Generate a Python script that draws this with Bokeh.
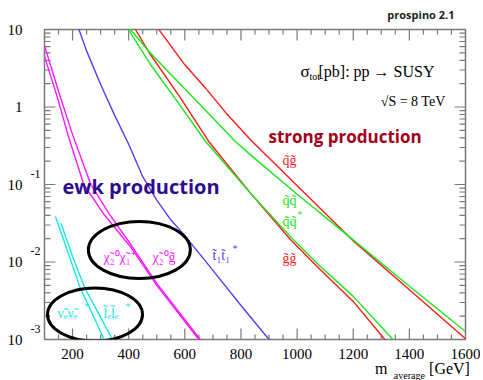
import math
from bokeh.plotting import figure
from bokeh.models import (Label, FixedTicker, LinearAxis, LogAxis,
                          CustomJSTickFormatter)
from bokeh.embed import file_html
from bokeh.resources import INLINE

# ---------------- data (m_average in GeV, sigma_tot in pb) ----------------
mass_qg = [500, 513, 600, 674, 750, 834, 1012, 1196, 1397, 1600]
xsec_qg = [11.0, 9.4, 3.5, 1.75, 0.81, 0.378, 0.0875, 0.0193, 0.00449, 0.00102]

mass_qq = [390, 406, 478, 632, 700, 780, 834, 1000, 1178, 1397, 1600]
xsec_qq = [12.0, 10.0, 4.94, 1.30, 0.72, 0.359, 0.241, 0.075, 0.0224, 0.00498, 0.00127]

mass_qqbar = [385, 399, 478, 573, 674, 834, 987, 1083, 1200, 1339, 1350]
xsec_qqbar = [12.5, 10.0, 3.51, 1.18, 0.359, 0.0773, 0.0193, 0.00875, 0.0036, 0.00102, 0.00092]

mass_gg = [410, 424, 478, 585, 685, 834, 976, 1083, 1200, 1309, 1320]
xsec_gg = [12.5, 10.0, 4.72, 1.30, 0.359, 0.0773, 0.0195, 0.00792, 0.0031, 0.00104, 0.00092]

mass_stop = [200, 250, 300, 350, 400, 450, 500, 550, 600, 700, 800, 900]
xsec_stop = [17.0, 5.3, 1.95, 0.78, 0.33, 0.126, 0.063, 0.035, 0.0219, 0.0078, 0.00275, 0.00100]

mass_n2c1 = [100, 150, 200, 265, 330, 400, 500, 655, 670]
xsec_n2c1 = [6.2, 1.6, 0.44, 0.10, 0.042, 0.0184, 0.0053, 0.00100, 0.00090]

mass_n2g = [100, 145, 185, 240, 310, 385, 405, 500, 650, 665]
xsec_n2g = [4.5, 1.36, 0.42, 0.10, 0.042, 0.0195, 0.016, 0.0050, 0.00100, 0.00090]

mass_snu = [139, 183, 228, 270, 315]
xsec_snu = [0.0386, 0.0136, 0.00455, 0.00217, 0.00095]

mass_slep = [159, 200, 244, 290, 345]
xsec_slep = [0.0317, 0.0118, 0.00459, 0.00226, 0.00095]

x_ticks = [200, 400, 600, 800, 1000, 1200, 1400, 1600]
x_minor = [m for m in range(150, 1600, 50) if m not in x_ticks]
y_ticks = [0.001, 0.01, 0.1, 1, 10]
y_minor = [k * d for d in (0.001, 0.01, 0.1, 1) for k in range(2, 10)]
y_exp_decades = [0.1, 0.01, 0.001]

# x-axis title pieces: label text -> position along the axis (GeV)
xtitle_main = {1300: "m", 1543: "[GeV]"}
xtitle_sub = {1400: "average"}

# ellipses around the ewk labels (center in data, size in px)
ell_x = [438, 280]
ell_y = [0.0143, 0.0021]
ell_w = [102, 95]
ell_h = [57, 53]

# ---------------- styles ----------------
RED = "#ff1a1a"
GREEN = "#19e619"
BLUE = "#5a3cf5"
MAGENTA = "#ff19ff"
CYAN = "#1ae6e6"
AXIS_GREY = "#7a7a7a"
SERIF = "Liberation Serif"
EXP_SHIFT = 10 ** (11 / 77.5)   # raise exponents by ~11 px

p = figure(frame_width=421, frame_height=310, x_range=(100, 1600), y_range=(0.001, 10),
           y_axis_type="log", output_backend="svg", toolbar_location=None,
           min_border_left=44, min_border_right=15, min_border_top=28,
           min_border_bottom=40)
p.outline_line_color = AXIS_GREY
p.outline_line_width = 1.5
p.xgrid.visible = False
p.ygrid.visible = False
p.background_fill_color = "white"
p.border_fill_color = "white"

p.title.text = "prospino 2.1"
p.title.align = "right"
p.title.vertical_align = "top"
p.title.offset = 11
p.title.standoff = 12
p.title.text_font = "Open Sans"
p.title.text_font_size = "11px"
p.title.text_font_style = "bold"
p.title.text_color = "#1e1e1e"

empty_fmt = CustomJSTickFormatter(code="return ''")


def text_axis(ax, ticker, fmt, size, standoff):
    ax.ticker = ticker
    ax.formatter = fmt
    ax.axis_line_color = None
    ax.major_tick_line_color = None
    ax.minor_tick_line_color = None
    ax.major_tick_in = 0
    ax.major_tick_out = 0
    ax.minor_tick_in = 0
    ax.minor_tick_out = 0
    ax.major_label_text_font = SERIF
    ax.major_label_text_font_size = size
    ax.major_label_text_color = "black"
    ax.major_label_standoff = standoff


# bottom axis: tick labels only (tick marks are drawn inside the frame below)
xax = p.xaxis[0]
text_axis(xax, FixedTicker(ticks=x_ticks), p.xaxis[0].formatter, "15px", 9)
yax = p.yaxis[0]
text_axis(yax, FixedTicker(ticks=y_ticks), empty_fmt, "1px", 0)

top_ax = LinearAxis()
text_axis(top_ax, FixedTicker(ticks=x_ticks), empty_fmt, "1px", 0)
p.add_layout(top_ax, "above")
right_ax = LogAxis()
text_axis(right_ax, FixedTicker(ticks=y_ticks), empty_fmt, "1px", 0)
p.add_layout(right_ax, "right")

# y tick labels: exponents (inner) and bases (outer)
exp_ax = LogAxis()
text_axis(exp_ax, FixedTicker(ticks=[d * EXP_SHIFT for d in y_exp_decades]),
          CustomJSTickFormatter(code="return String(Math.round(Math.log10(tick)))"),
          "12px", 4)
p.add_layout(exp_ax, "left")
base_ax = LogAxis()
text_axis(base_ax, FixedTicker(ticks=y_ticks),
          CustomJSTickFormatter(code="return tick >= 1 ? String(tick) : '10'"),
          "15px", 5)
p.add_layout(base_ax, "left")

# x-axis title: "m" + subscript "average" + "[GeV]"
xt_main = LinearAxis()
text_axis(xt_main, FixedTicker(ticks=list(xtitle_main.keys())), empty_fmt, "16px", -2)
xt_main.major_label_overrides = xtitle_main
p.add_layout(xt_main, "below")
xt_sub = LinearAxis()
text_axis(xt_sub, FixedTicker(ticks=list(xtitle_sub.keys())), empty_fmt, "10px", -10)
xt_sub.major_label_overrides = xtitle_sub
p.add_layout(xt_sub, "below")

# ---------------- inward tick marks on all four sides ----------------
xlo, xhi = p.x_range.start, p.x_range.end
ylo, yhi = p.y_range.start, p.y_range.end
y_major_in = [v for v in y_ticks if ylo < v < yhi]
x_major_in = [v for v in x_ticks if xlo < v < xhi]
tick_style = dict(line_color=AXIS_GREY, line_width=1.2, length_units="screen")
for xs, ln in ((x_major_in, 11), (x_minor, 5)):
    p.ray(x=xs, y=[ylo] * len(xs), length=ln, angle=math.pi / 2, **tick_style)
    p.ray(x=xs, y=[yhi] * len(xs), length=ln, angle=-math.pi / 2, **tick_style)
for ys, ln in ((y_major_in, 11), (y_minor, 6)):
    p.ray(x=[xlo] * len(ys), y=ys, length=ln, angle=0, **tick_style)
    p.ray(x=[xhi] * len(ys), y=ys, length=ln, angle=math.pi, **tick_style)

# ---------------- curves ----------------
lw = 1.4
p.line(mass_qg, xsec_qg, line_color=RED, line_width=lw)
p.line(mass_gg, xsec_gg, line_color=RED, line_width=lw)
p.line(mass_qq, xsec_qq, line_color=GREEN, line_width=lw)
p.line(mass_qqbar, xsec_qqbar, line_color=GREEN, line_width=lw)
p.line(mass_stop, xsec_stop, line_color=BLUE, line_width=lw)
p.line(mass_n2c1, xsec_n2c1, line_color=MAGENTA, line_width=lw)
p.line(mass_n2g, xsec_n2g, line_color=MAGENTA, line_width=lw)
p.line(mass_snu, xsec_snu, line_color=CYAN, line_width=lw)
p.line(mass_slep, xsec_slep, line_color=CYAN, line_width=lw)

p.ellipse(x=ell_x, y=ell_y, width=ell_w, height=ell_h,
          width_units="screen", height_units="screen",
          fill_color=None, line_color="black", line_width=3)

# ---------------- annotations (screen px relative to frame) ----------------
texts = [
    ("σ", 256, 268, SERIF, "17px", "normal", "black", "left"),
    ("tot", 265, 263, SERIF, "10px", "normal", "black", "left"),
    ("[pb]: pp → SUSY", 274, 268, SERIF, "16px", "normal", "black", "left"),
    ("√S = 8 TeV", 401, 238, SERIF, "14px", "normal", "black", "right"),
    ("strong production", 224, 203, "Open Sans", "17px", "bold", "#a30018", "left"),
    ("ewk production", 18, 153, "Open Sans", "20px", "bold", "#2d0c8e", "left"),
    ("q̃g̃", 238, 179, SERIF, "14px", "normal", RED, "left"),
    ("q̃q̃", 238, 139, SERIF, "14px", "normal", GREEN, "left"),
    ("q̃q̃", 238, 118, SERIF, "14px", "normal", GREEN, "left"),
    ("*", 253, 125, SERIF, "10px", "normal", GREEN, "left"),
    ("g̃g̃", 238, 81, SERIF, "14px", "normal", RED, "left"),
    ("t̃₁t̃₁", 168, 84, SERIF, "14px", "normal", BLUE, "left"),
    ("*", 188, 91, SERIF, "10px", "normal", BLUE, "left"),
    ("χ̃₂⁰χ̃₁⁺", 59, 82, SERIF, "14px", "normal", MAGENTA, "left"),
    ("χ̃₂⁰g̃", 108, 82, SERIF, "14px", "normal", MAGENTA, "left"),
    ("ν̃ₑν̃ₑ", 13, 26, SERIF, "14px", "normal", CYAN, "left"),
    ("*", 40, 33, SERIF, "10px", "normal", CYAN, "left"),
    ("l̃ₑl̃ₑ", 59, 26, SERIF, "14px", "normal", CYAN, "left"),
    ("*", 81, 33, SERIF, "10px", "normal", CYAN, "left"),
]
for t, sx, sy, font, size, style, color, align in texts:
    p.add_layout(Label(x=sx, y=sy, x_units="screen", y_units="screen", text=t,
                       text_font=font, text_font_size=size, text_font_style=style,
                       text_color=color, text_align=align, text_baseline="middle"))

open("out.html", "w").write(file_html(p, INLINE))
